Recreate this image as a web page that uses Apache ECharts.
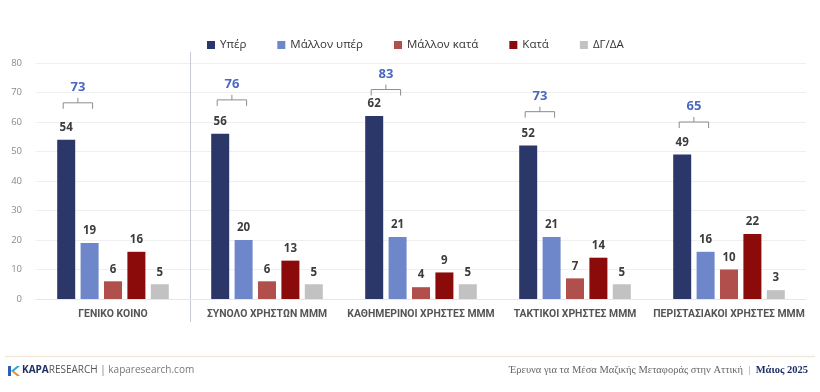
<!DOCTYPE html>
<html><head><meta charset="utf-8">
<script src="https://cdn.jsdelivr.net/npm/echarts@6/dist/echarts.min.js"></script>
<style>html,body{margin:0;padding:0;background:#fff}#c{width:820px;height:392px}</style>
</head><body><div id="c"></div>
<script>
const categories = ['ΓΕΝΙΚΟ ΚΟΙΝΟ','ΣΥΝΟΛΟ ΧΡΗΣΤΩΝ ΜΜΜ','ΚΑΘΗΜΕΡΙΝΟΙ ΧΡΗΣΤΕΣ ΜΜΜ','ΤΑΚΤΙΚΟΙ ΧΡΗΣΤΕΣ ΜΜΜ','ΠΕΡΙΣΤΑΣΙΑΚΟΙ ΧΡΗΣΤΕΣ ΜΜΜ'];
const seriesNames = ['Υπέρ','Μάλλον υπέρ','Μάλλον κατά','Κατά','ΔΓ/ΔΑ'];
const yper = [54,56,62,52,49];
const mallonYper = [19,20,21,21,16];
const mallonKata = [6,6,4,7,10];
const kata = [16,13,9,14,22];
const dgda = [5,5,5,5,3];
const totals = [73,76,83,73,65];
const bracketLevels = [66.5,67.5,71,63.5,60];
const yTicks = {min:0,max:80,interval:10};

const colors = ['#2a3768','#6e87cb','#b14f4c','#8b0a0a','#c2c2c2'];
const seriesData = [yper,mallonYper,mallonKata,kata,dgda];
const BAR_W = 18, GAP = 0.3;
const FONT = '"Open Sans", "Noto Sans", sans-serif';

const chart = echarts.init(document.getElementById('c'));
const barSeries = seriesNames.map((n,i)=>({
  name:n, type:'bar', data:seriesData[i], barWidth:BAR_W, barGap:(GAP*100)+'%',
  itemStyle:{color:colors[i]},
  label:{show:true, position:'top', distance:6, color:'#3c3c3c', fontWeight:'bold', fontSize:11.5, fontFamily:FONT}
}));
const bracketSeries = {
  type:'custom', name:'brackets', silent:true, z:5,
  data: totals.map((t,i)=>[i, bracketLevels[i], t]),
  renderItem:function(params, api){
    const c = api.coord([api.value(0), api.value(1)]);
    const stride = BAR_W*(1+GAP);
    const x1 = c[0]-2*stride-3, x2 = c[0]-stride+3, y = c[1];
    const mx = (x1+x2)/2;
    return {type:'group', children:[
      {type:'polyline', shape:{points:[[x1,y+6],[x1,y],[x2,y],[x2,y+6]]}, style:{stroke:'#8c8c8c', fill:null, lineWidth:1}},
      {type:'line', shape:{x1:mx,y1:y,x2:mx,y2:y-5}, style:{stroke:'#8c8c8c', lineWidth:1}},
      {type:'text', x:mx, y:y-9, style:{text:String(api.value(2)), fill:'#4a68c0', font:'bold 13px '+FONT, align:'center', verticalAlign:'bottom'}}
    ]};
  }
};
chart.setOption({
  animation:false,
  backgroundColor:'#fff',
  grid:{left:36,right:14,top:63,bottom:93},
  legend:{data:seriesNames, top:34, left:202, itemWidth:8, itemHeight:8, itemGap:31, icon:'rect',
    textStyle:{color:'#333', fontSize:11.5, fontFamily:FONT}},
  xAxis:{type:'category', data:categories,
    axisLine:{show:true, lineStyle:{color:'#e6e6e6'}}, axisTick:{show:false},
    axisLabel:{color:'#555', fontWeight:'bold', fontSize:10.4, fontFamily:'Roboto, sans-serif', margin:10, interval:0}},
  yAxis:{type:'value', min:yTicks.min, max:yTicks.max, interval:yTicks.interval,
    axisLabel:{color:'#8a8a8a', fontSize:9.5, fontFamily:FONT, margin:14},
    splitLine:{lineStyle:{color:'#efefef'}}, axisLine:{show:false}},
  series:[...barSeries, bracketSeries]
});
const xa = chart.convertToPixel({xAxisIndex:0}, 0);
const xb = chart.convertToPixel({xAxisIndex:0}, 1);
const sepX = Math.round((xa+xb)/2)+0.5;
chart.setOption({graphic:[
  {type:'line', shape:{x1:sepX,y1:52,x2:sepX,y2:322}, style:{stroke:'#c5c9d6', lineWidth:1}},
  {type:'line', shape:{x1:5,y1:356.5,x2:815,y2:356.5}, style:{stroke:'#f3e6dc', lineWidth:1.5}},
  {type:'polygon', shape:{points:[[8,366],[11,366],[11,376],[8,376]]}, style:{fill:'#2d5fb0'}},
  {type:'polygon', shape:{points:[[11,371],[17,366],[20,366],[14,371]]}, style:{fill:'#2aa3d8'}},
  {type:'polygon', shape:{points:[[11,371],[14,371],[20,376],[17,376]]}, style:{fill:'#f08a1c'}},
  {type:'text', left:22, top:365, style:{text:'{a|KAPA}{b|RESEARCH}{c| | kaparesearch.com}',
    rich:{a:{fill:'#1f2f66', font:'bold 10px '+FONT}, b:{fill:'#555', font:'10px '+FONT}, c:{fill:'#777', font:'10px '+FONT}}}},
  {type:'text', right:12, top:365, style:{text:'{a|Έρευνα για τα Μέσα Μαζικής Μεταφοράς στην Αττική}{c|  |  }{b|Μάιος 2025}',
    rich:{a:{fill:'#666', font:'10.5px "Liberation Serif", serif'}, c:{fill:'#999', font:'10.5px "Liberation Serif", serif'}, b:{fill:'#1f2f66', font:'bold 10.5px "Liberation Serif", serif'}}}}
]});
</script></body></html>
